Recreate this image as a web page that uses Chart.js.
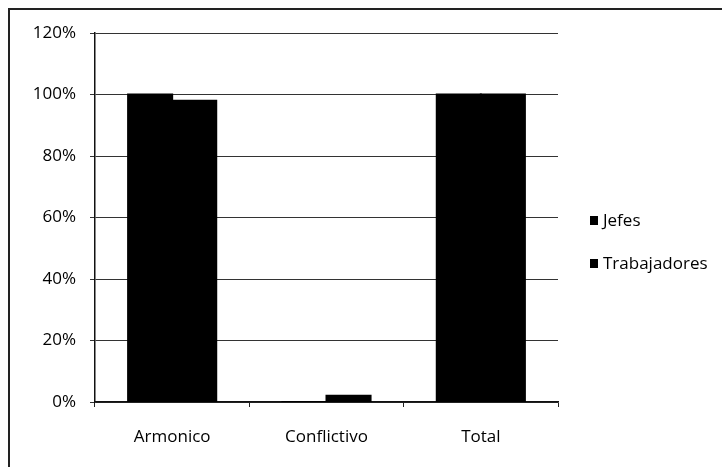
<!DOCTYPE html>
<html>
<head>
<meta charset="utf-8">
<script src="https://cdn.jsdelivr.net/npm/chart.js@4/dist/chart.umd.min.js"></script>
<style>
  html, body { margin: 0; padding: 0; background: #fff; }
  #wrap { position: relative; width: 722px; height: 467px; overflow: hidden; }
  #frame { position: absolute; left: 8px; top: 8px; width: 730px; height: 470px;
           border-top: 2px solid #222; border-left: 2px solid #222; }
  #legend { position: absolute; left: 590px; top: 207px; font: 17px "Open Sans", sans-serif; color: #000; }
  #legend div { height: 43px; line-height: 26px; white-space: nowrap; }
  #legend span { display: inline-block; width: 8px; height: 9px; margin-right: 5px; vertical-align: 1px; }
</style>
</head>
<body>
<div id="wrap">
  <canvas id="chart" width="722" height="467"></canvas>
  <div id="frame"></div>
  <div id="legend"></div>
</div>
<script>
const categories = ['Armonico', 'Conflictivo', 'Total'];
const jefes = [100, 0, 100];
const trabajadores = [98, 2, 100];
const seriesNames = ['Jefes', 'Trabajadores'];
const seriesColors = ['#000000', '#000000'];
const yTicks = [0, 20, 40, 60, 80, 100, 120];

const font = { family: '"Open Sans", sans-serif', size: 17 };

const ctx = document.getElementById('chart');
new Chart(ctx, {
  type: 'bar',
  data: {
    labels: categories,
    datasets: [
      { label: seriesNames[0], data: jefes, backgroundColor: seriesColors[0] },
      { label: seriesNames[1], data: trabajadores, backgroundColor: seriesColors[1] }
    ]
  },
  options: {
    responsive: false,
    animation: false,
    layout: { padding: { left: 0, top: 33, right: 164, bottom: 0 } },
    // inflate a little so the two bars of a group don't show a seam
    datasets: { bar: { categoryPercentage: 0.571, barPercentage: 1.0, borderWidth: 0, inflateAmount: 1 } },
    plugins: { legend: { display: false }, tooltip: { enabled: false } },
    scales: {
      x: {
        grid: { offset: true, drawOnChartArea: false, drawTicks: true, tickLength: 5, color: '#222' },
        border: { color: '#111', width: 1.5 },
        ticks: { font: font, color: '#000', padding: 20 },
        afterFit: (scale) => { scale.height = 65; }
      },
      y: {
        min: 0,
        max: 120,
        afterBuildTicks: (scale) => { scale.ticks = yTicks.map(v => ({ value: v })); },
        grid: { color: '#333', tickLength: 5, lineWidth: 1 },
        border: { color: '#111', width: 1.5 },
        ticks: { font: font, color: '#000', padding: 14, callback: (v) => v + '%' },
        afterFit: (scale) => { scale.width = 95; }
      }
    }
  }
});

// legend as text next to the plot
const legend = document.getElementById('legend');
seriesNames.forEach((name, i) => {
  const row = document.createElement('div');
  const box = document.createElement('span');
  box.style.background = seriesColors[i];
  row.appendChild(box);
  row.appendChild(document.createTextNode(name));
  legend.appendChild(row);
});
</script>
</body>
</html>
